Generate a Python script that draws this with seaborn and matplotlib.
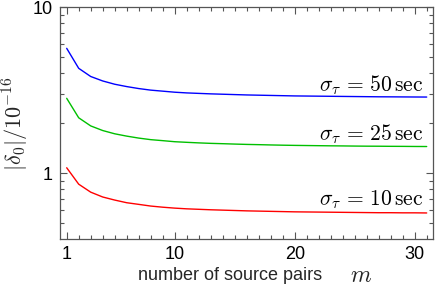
import numpy as np
import pandas as pd
import matplotlib
matplotlib.use("Agg")
import matplotlib.pyplot as plt
import seaborn as sns
from matplotlib.ticker import FixedLocator, NullFormatter

m_values = list(range(1, 32))
delta_50 = [5.66, 4.29, 3.83, 3.60, 3.44, 3.33, 3.24, 3.17, 3.125, 3.08, 3.05, 3.03, 3.01, 2.995, 2.98,
            2.965, 2.955, 2.945, 2.935, 2.925, 2.92, 2.915, 2.91, 2.905, 2.90, 2.895, 2.89, 2.888, 2.885, 2.882, 2.88]
delta_25 = [2.83, 2.16, 1.93, 1.81, 1.73, 1.675, 1.63, 1.595, 1.573, 1.55, 1.537, 1.525, 1.515, 1.508, 1.50,
            1.493, 1.488, 1.482, 1.477, 1.473, 1.47, 1.467, 1.464, 1.462, 1.459, 1.457, 1.456, 1.454, 1.453, 1.451, 1.45]
delta_10 = [1.08, 0.86, 0.77, 0.72, 0.69, 0.665, 0.65, 0.635, 0.625, 0.617, 0.611, 0.607, 0.603, 0.600, 0.597,
            0.594, 0.592, 0.590, 0.588, 0.586, 0.585, 0.584, 0.583, 0.582, 0.581, 0.580, 0.579, 0.579, 0.578, 0.578, 0.577]
series_names = ["50", "25", "10"]
series_colors = ["#0000ff", "#00c000", "#ff0000"]
label_y = [3.40, 1.72, 0.69]
x_major = [1, 10, 20, 30]
y_major = [1, 10]

sns.set_theme(style="ticks")
plt.rcParams['font.family'] = ['Liberation Sans', 'DejaVu Sans']
plt.rcParams['mathtext.fontset'] = 'cm'

df = pd.DataFrame({
    "m": m_values * 3,
    "delta": delta_50 + delta_25 + delta_10,
    "sigma": [series_names[0]] * len(m_values) + [series_names[1]] * len(m_values) + [series_names[2]] * len(m_values),
})

fig = plt.figure(figsize=(4.36, 2.91), dpi=100)
ax = fig.add_axes([60/436, 1 - 239.3/291, (433-60)/436, (239.3-7.3)/291])

sns.lineplot(data=df, x="m", y="delta", hue="sigma", palette=dict(zip(series_names, series_colors)),
             hue_order=series_names, ax=ax, legend=False, linewidth=1.0)

ax.set_yscale("log")
ax.set_xlim(0.442, 31.525)
ax.set_ylim(0.4004, 10)

ax.xaxis.set_major_locator(FixedLocator(x_major))
ax.xaxis.set_minor_locator(FixedLocator([v for v in range(1, 32) if v not in x_major]))
ax.set_xticklabels([str(v) for v in x_major])
ax.yaxis.set_major_locator(FixedLocator(y_major))
ax.yaxis.set_minor_locator(FixedLocator([0.4, 0.5, 0.6, 0.7, 0.8, 0.9, 2, 3, 4, 5, 6, 7, 8, 9]))
ax.yaxis.set_minor_formatter(NullFormatter())
ax.set_yticklabels([str(v) for v in y_major])

spine_color = "#555555"
for s in ax.spines.values():
    s.set_visible(True)
    s.set_color(spine_color)
    s.set_linewidth(0.9)
ax.tick_params(which="both", direction="in", top=True, right=True, color=spine_color, labelsize=13,
               labelcolor="black", width=0.8)
ax.tick_params(which="major", length=5, pad=5)
ax.tick_params(which="minor", length=3)

ax.set_xlabel("")
ax.set_ylabel(r"$|\delta_0|/10^{-16}$", fontsize=16)
ax.yaxis.set_label_coords(-0.078, 0.5)

for name, col, ly in zip(series_names, series_colors, label_y):
    ax.text(30.7, ly, r"$\sigma_\tau \,=\, %s\,\mathrm{sec}$" % name, ha="right", va="center", fontsize=15.5, color="black")

fig.text(138/436, 1 - 276/291, "number of source pairs", ha="left", va="center", fontsize=13)
fig.text(350/436, 1 - 276/291, r"$m$", ha="left", va="center", fontsize=17)

fig.savefig("out.png", dpi=100)
